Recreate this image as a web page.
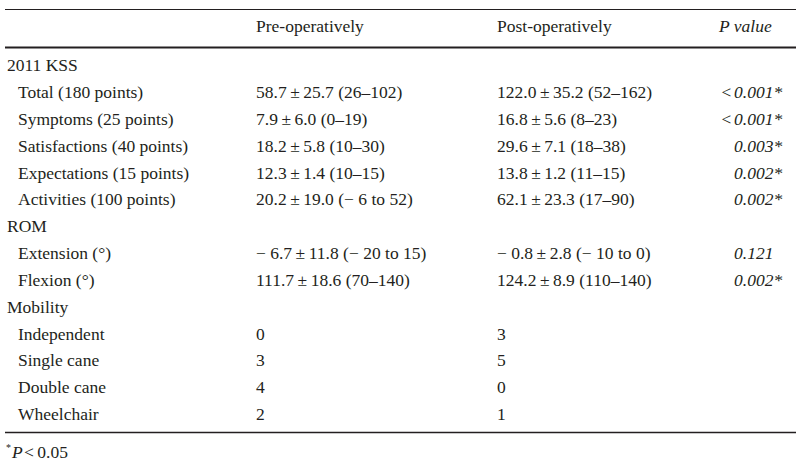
<!DOCTYPE html>
<html>
<head>
<meta charset="utf-8">
<script src="https://cdn.jsdelivr.net/npm/d3@7"></script>
<style>
  body { margin: 0; background: #fff; }
  text { font-family: "Liberation Serif", "Times New Roman", serif; fill: #231f20; }
</style>
</head>
<body>
<script>
/* -----------------------------------------------------
 *  Table data
 ----------------------------------------------------- */
const columnHeaders = ["Pre-operatively", "Post-operatively", "P value"];
const groupNames = ["2011 KSS", "ROM", "Mobility"];

const rowLabels = [
  "Total (180 points)",
  "Symptoms (25 points)",
  "Satisfactions (40 points)",
  "Expectations (15 points)",
  "Activities (100 points)",
  "Extension (°)",
  "Flexion (°)",
  "Independent",
  "Single cane",
  "Double cane",
  "Wheelchair"
];
const rowGroup = [0, 0, 0, 0, 0, 1, 1, 2, 2, 2, 2];

const preValues = [
  "58.7\u2009±\u200925.7 (26–102)",
  "7.9\u2009±\u20096.0 (0–19)",
  "18.2\u2009±\u20095.8 (10–30)",
  "12.3\u2009±\u20091.4 (10–15)",
  "20.2\u2009±\u200919.0 (\u2212 6 to 52)",
  "\u2212 6.7\u2009±\u200911.8 (\u2212 20 to 15)",
  "111.7\u2009±\u200918.6 (70–140)",
  "0",
  "3",
  "4",
  "2"
];
const postValues = [
  "122.0\u2009±\u200935.2 (52–162)",
  "16.8\u2009±\u20095.6 (8–23)",
  "29.6\u2009±\u20097.1 (18–38)",
  "13.8\u2009±\u20091.2 (11–15)",
  "62.1\u2009±\u200923.3 (17–90)",
  "\u2212 0.8\u2009±\u20092.8 (\u2212 10 to 0)",
  "124.2\u2009±\u20098.9 (110–140)",
  "3",
  "5",
  "0",
  "1"
];
const pValues = [
  "<0.001*", "<0.001*", "0.003*", "0.002*", "0.002*",
  "0.121", "0.002*", "", "", "", ""
];

/* -----------------------------------------------------
 *  Layout
 ----------------------------------------------------- */
const width = 800;
const height = 462;
const fontSize = 17.5;

const svg = d3
  .select("body")
  .append("svg")
  .attr("width", width)
  .attr("height", height);

// build the body lines: a group heading then its rows
const lines = [];
groupNames.forEach((g, gi) => {
  lines.push({ type: "group", label: g });
  rowLabels.forEach((lab, i) => {
    if (rowGroup[i] === gi) {
      lines.push({ type: "row", label: lab, pre: preValues[i], post: postValues[i], p: pValues[i] });
    }
  });
});

const y = d3
  .scalePoint()
  .domain(d3.range(lines.length))
  .range([65, 414]);

const colX = { group: 7, row: 18, pre: 256, post: 497, p: 734 };

/* -----------------------------------------------------
 *  Rules
 ----------------------------------------------------- */
const rule = (yy, w) =>
  svg.append("line")
    .attr("x1", 5).attr("x2", 796)
    .attr("y1", yy).attr("y2", yy)
    .attr("stroke", "#231f20")
    .attr("stroke-width", w);

rule(9.5, 1.2);
rule(47.5, 2.2);
rule(432.5, 1.3);

/* -----------------------------------------------------
 *  Header
 ----------------------------------------------------- */
const headerY = 26;
svg.append("text")
  .attr("x", colX.pre).attr("y", headerY).attr("dy", "0.35em")
  .style("font-size", fontSize + "px")
  .text(columnHeaders[0]);
svg.append("text")
  .attr("x", colX.post).attr("y", headerY).attr("dy", "0.35em")
  .style("font-size", fontSize + "px")
  .text(columnHeaders[1]);
svg.append("text")
  .attr("x", 719).attr("y", headerY).attr("dy", "0.35em")
  .style("font-size", fontSize + "px")
  .style("font-style", "italic")
  .text(columnHeaders[2]);

/* -----------------------------------------------------
 *  Body
 ----------------------------------------------------- */
const rows = svg
  .selectAll(".line")
  .data(lines)
  .enter()
  .append("g")
  .attr("class", "line")
  .attr("transform", (d, i) => `translate(0,${y(i)})`)
  .style("font-size", fontSize + "px");

rows.append("text")
  .attr("x", (d) => (d.type === "group" ? colX.group : colX.row))
  .attr("dy", "0.35em")
  .text((d) => d.label);

const dataRows = rows.filter((d) => d.type === "row");

dataRows.append("text")
  .attr("x", colX.pre)
  .attr("dy", "0.35em")
  .text((d) => d.pre);

dataRows.append("text")
  .attr("x", colX.post)
  .attr("dy", "0.35em")
  .text((d) => d.post);

// p values: the number is left aligned, a leading "<" hangs before it
dataRows.append("text")
  .attr("x", colX.p)
  .attr("dy", "0.35em")
  .style("font-style", "italic")
  .text((d) => d.p.replace("<", ""));

dataRows.filter((d) => d.p.startsWith("<"))
  .append("text")
  .attr("x", colX.p - 2)
  .attr("dy", "0.35em")
  .attr("text-anchor", "end")
  .style("font-style", "italic")
  .text("<");

/* -----------------------------------------------------
 *  Footnote
 ----------------------------------------------------- */
svg.append("text")
  .attr("x", 6)
  .attr("y", 451)
  .style("font-size", "10px")
  .text("*");
svg.append("text")
  .attr("x", 12)
  .attr("y", 458)
  .style("font-size", fontSize + "px")
  .style("font-style", "italic")
  .text("P");
svg.append("text")
  .attr("x", 24)
  .attr("y", 458)
  .style("font-size", fontSize + "px")
  .text("<\u20090.05");
</script>
</body>
</html>
